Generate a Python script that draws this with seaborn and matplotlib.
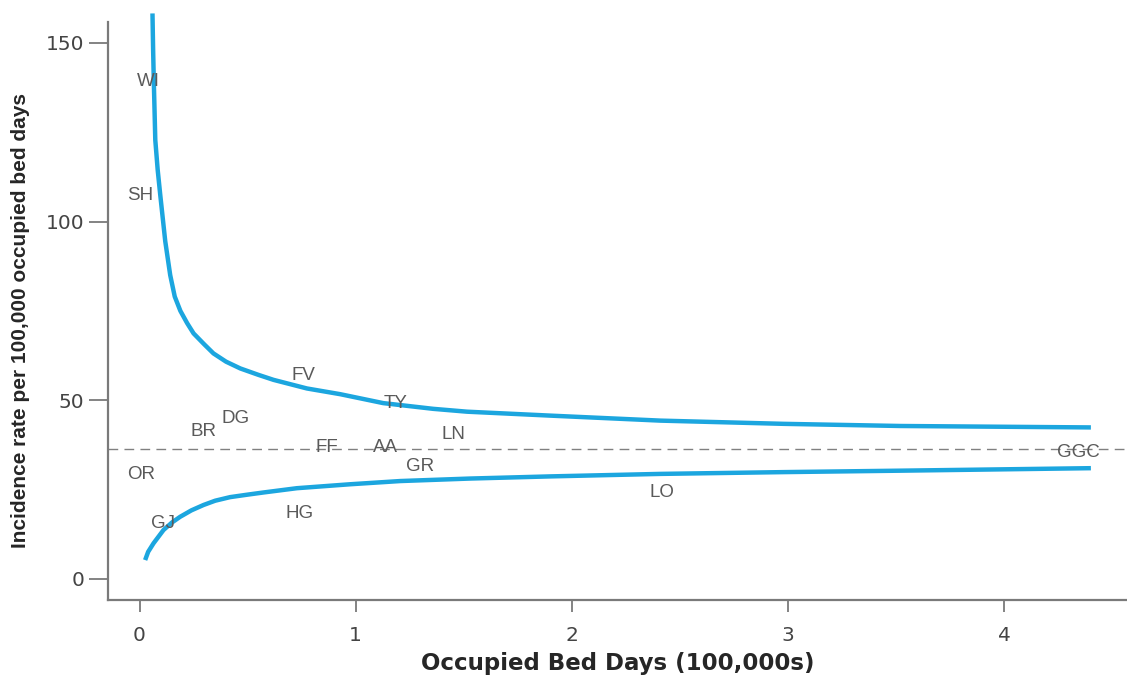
import matplotlib
matplotlib.use("Agg")
import matplotlib.pyplot as plt
import seaborn as sns
import pandas as pd

# ---- data ----
upper_x = [0.060, 0.063, 0.066, 0.073, 0.084, 0.096, 0.119, 0.142, 0.163, 0.189,
           0.220, 0.250, 0.300, 0.342, 0.400, 0.466, 0.550, 0.620, 0.774, 0.928,
           1.127, 1.358, 1.515, 1.90, 2.41, 2.98, 3.52, 4.40]
upper_y = [158.2, 148.0, 139.6, 122.8, 114.5, 107.4, 94.5, 85.0, 79.0, 75.0,
           71.6, 68.7, 65.6, 63.1, 60.8, 58.9, 57.1, 55.7, 53.3, 51.7,
           49.2, 47.6, 46.8, 45.7, 44.3, 43.4, 42.8, 42.4]
lower_x = [0.026, 0.040, 0.065, 0.111, 0.150, 0.188, 0.240, 0.296, 0.350, 0.419,
           0.500, 0.573, 0.728, 0.974, 1.206, 1.53, 1.90, 2.41, 2.98, 3.52, 4.40]
lower_y = [5.3, 7.6, 10.0, 13.7, 15.8, 17.4, 19.2, 20.7, 21.9, 22.9,
           23.6, 24.2, 25.4, 26.5, 27.4, 28.1, 28.7, 29.4, 29.9, 30.3, 31.0]
mean_rate = 36.3

labels = ["WI", "SH", "FV", "TY", "DG", "BR", "LN", "FF", "AA", "GGC",
          "GR", "OR", "LO", "HG", "GJ"]
label_x = [0.042, 0.003, 0.760, 1.182, 0.442, 0.297, 1.452, 0.866, 1.136, 4.34,
           1.298, 0.006, 2.417, 0.738, 0.108]
label_y = [139.1, 107.4, 56.8, 49.0, 44.9, 41.2, 40.3, 36.7, 36.7, 35.3,
           31.6, 29.3, 24.3, 18.2, 15.6]

x_ticks = [0, 1, 2, 3, 4]
y_ticks = [0, 50, 100, 150]
x_title = "Occupied Bed Days (100,000s)"
y_title = "Incidence rate per 100,000 occupied bed days"

# ---- style ----
sns.set_style("ticks")
plt.rcParams["font.family"] = ["DejaVu Sans"]

curve_col = "#1CA6DF"
grey_txt = "#5a5a5a"
axis_col = "#7a7a7a"

fig = plt.figure(figsize=(11.27, 6.8), dpi=100)
ax = fig.add_axes([108 / 1127, 80 / 680, 1 - 108 / 1127, (600 - 21.7) / 680])

up = pd.DataFrame({"x": upper_x, "y": upper_y})
lo = pd.DataFrame({"x": lower_x, "y": lower_y})
sns.lineplot(data=up, x="x", y="y", ax=ax, color=curve_col, lw=3.2,
             sort=False, estimator=None, clip_on=False,
             solid_capstyle="butt", solid_joinstyle="round")
sns.lineplot(data=lo, x="x", y="y", ax=ax, color=curve_col, lw=3.2,
             sort=False, estimator=None,
             solid_capstyle="butt", solid_joinstyle="round")
ax.axhline(mean_rate, color="#808080", lw=1.0, ls=(0, (7, 4.5)), zorder=1)

for t, xx, yy in zip(labels, label_x, label_y):
    ax.text(xx, yy, t, ha="center", va="center", fontsize=13.5, color=grey_txt,
            family=["Liberation Sans", "DejaVu Sans"], zorder=3)

ax.set_xlim(-0.1457, 4.567)
ax.set_ylim((579 - 600) / 3.575, (579 - 21.7) / 3.575)
ax.set_xticks(x_ticks)
ax.set_yticks(y_ticks)
ax.set_xticklabels([str(v) for v in x_ticks])
ax.set_yticklabels([str(v) for v in y_ticks])

for s in ["top", "right"]:
    ax.spines[s].set_visible(False)
for s in ["left", "bottom"]:
    ax.spines[s].set_color(axis_col)
    ax.spines[s].set_linewidth(1.6)

ax.tick_params(axis="y", length=14, width=1.3, color=axis_col, pad=3,
               labelsize=14.5, labelcolor="#444444")
ax.tick_params(axis="x", length=8.5, width=1.3, color=axis_col, pad=10,
               labelsize=14.5, labelcolor="#444444")

ax.set_xlabel(x_title, fontsize=16.5, fontweight="bold", labelpad=5,
              family=["DejaVu Sans"])
ax.set_ylabel(y_title, fontsize=15, fontweight="bold",
              family=["Liberation Sans", "DejaVu Sans"])
ax.yaxis.set_label_coords(-0.077, 0.484)

fig.savefig("out.png", dpi=100)
